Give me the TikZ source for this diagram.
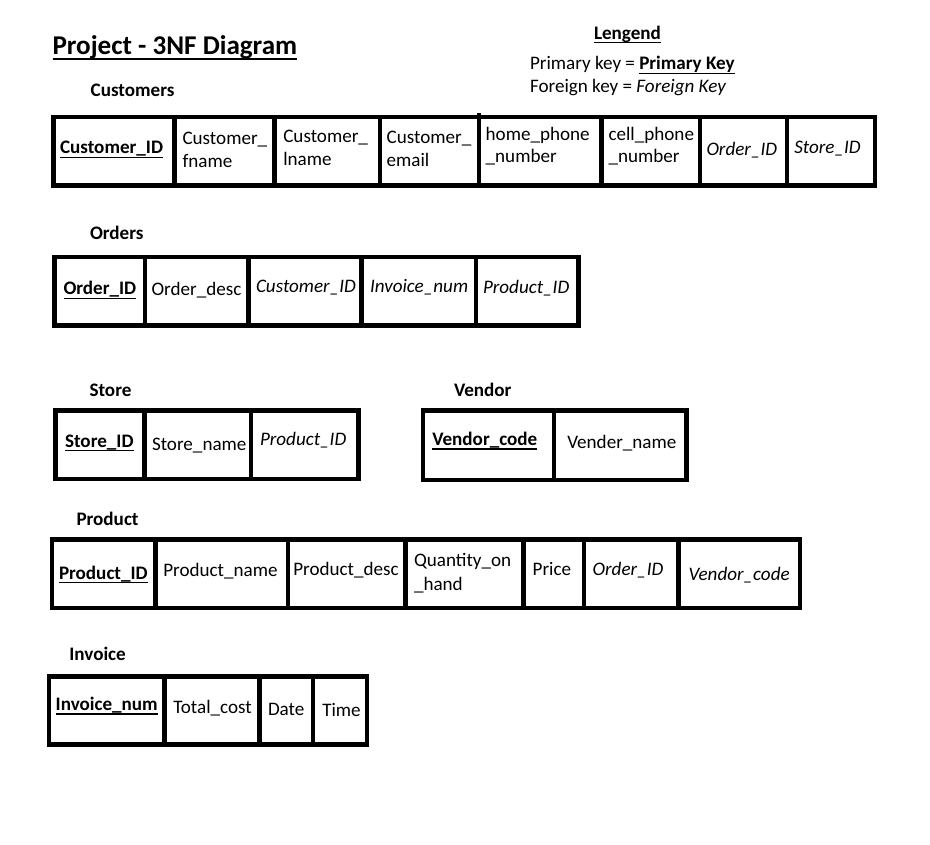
\documentclass[tikz,border=0pt]{standalone}
\usepackage{fontspec}
\setmainfont{Carlito}
\newcommand{\pkey}[1]{{\bfseries\setbox0=\hbox{#1}\rlap{\rule[-4pt]{\wd0}{1.4pt}}\box0}}
\newcommand{\titleul}[1]{{\bfseries\setbox0=\hbox{#1}\rlap{\rule[-5.6pt]{\wd0}{2pt}}\box0}}
\newcommand{\legul}[1]{{\bfseries\setbox0=\hbox{#1}\rlap{\rule[-4pt]{\wd0}{1.5pt}}\box0}}
\begin{document}
\begin{tikzpicture}[x=1pt,y=-1pt,
  txt/.style={inner sep=0pt,outer sep=0pt,anchor=base west,font=\fontsize{19.1pt}{22pt}\selectfont},
  lbl/.style={txt,font=\fontsize{19.1pt}{22pt}\selectfont\bfseries},
  fk/.style={txt,font=\fontsize{19.1pt}{22pt}\selectfont\itshape},
  tbl/.style={line width=4.5pt,line join=miter}]
\fill[white] (0,0) rectangle (930,845);
\useasboundingbox (0,0) rectangle (930,845);

% Title and legend
\node[txt,font=\fontsize{27.1pt}{32pt}\selectfont] (title) at (52.5,54.3) {\titleul{Project - 3NF Diagram}};
\node[txt] (legend) at (594,39.3) {\legul{Lengend}};
\node[txt] (legpk) at (530,70) {Primary key = \pkey{Primary Key}};
\node[txt] (legfk) at (530,92.7) {Foreign key = \textit{Foreign Key}};

% Customers
\node[lbl] (custlbl) at (90.7,96.7) {Customers};
\draw[tbl] (53.5,117) rectangle (875,185.5);
\foreach \x in {174.5,274.5,380,601.5,700,787} \draw[tbl] (\x,117) -- (\x,185.5);
\draw[tbl] (479,113) -- (479,185.5);
\node[txt] (c1) at (60,154) {\pkey{Customer\_ID}};
\node[txt] (c2a) at (182.5,145) {Customer\_};
\node[txt] (c2b) at (182.5,167.5) {fname};
\node[txt] (c3a) at (283.3,143) {Customer\_};
\node[txt] (c3b) at (283.3,165.7) {lname};
\node[txt] (c4a) at (386.7,144) {Customer\_};
\node[txt] (c4b) at (386.7,166.7) {email};
\node[txt] (c5a) at (485.7,141) {home\_phone};
\node[txt] (c5b) at (485.7,163) {\_number};
\node[txt] (c6a) at (608.5,141) {cell\_phone};
\node[txt] (c6b) at (608.5,163) {\_number};
\node[fk] (c7) at (706.5,156) {Order\_ID};
\node[fk] (c8) at (794.3,154) {Store\_ID};

% Orders
\node[lbl] (ordlbl) at (90,239.6) {Orders};
\draw[tbl] (54.7,257) rectangle (578.5,325.5);
\foreach \x in {145,248.4,361.5,475.8} \draw[tbl] (\x,257) -- (\x,325.5);
\node[txt] (o1) at (63.5,295) {\pkey{Order\_ID}};
\node[txt] (o2) at (151.5,296) {Order\_desc};
\node[fk] (o3) at (256,293) {Customer\_ID};
\node[fk] (o4) at (370,293) {Invoice\_num};
\node[fk] (o5) at (483,293.5) {Product\_ID};

% Store
\node[lbl] (storelbl) at (89.5,396) {Store};
\draw[tbl] (55.5,410.5) rectangle (358.3,479);
\foreach \x in {144.3,251.2} \draw[tbl] (\x,410.5) -- (\x,479);
\node[txt] (s1) at (65,447.3) {\pkey{Store\_ID}};
\node[txt] (s2) at (152,450) {Store\_name};
\node[fk] (s3) at (260,445) {Product\_ID};

% Vendor
\node[lbl] (vendlbl) at (454,396) {Vendor};
\draw[tbl] (422.8,410.5) rectangle (686.3,480);
\draw[tbl] (553.8,410.5) -- (553.8,480);
\node[txt] (v1) at (432.3,445.7) {\pkey{Vendor\_code}};
\node[txt] (v2) at (567.3,448.3) {Vender\_name};

% Product
\node[lbl] (prodlbl) at (76.5,525) {Product};
\draw[tbl] (52.2,539.5) rectangle (800,608.2);
\foreach \x in {155.5,287.8,405.5,523.3,584.2,678.3} \draw[tbl] (\x,539.5) -- (\x,608.2);
\node[txt] (p1) at (59,579.3) {\pkey{Product\_ID}};
\node[txt] (p2) at (163.3,576.7) {Product\_name};
\node[txt] (p3) at (293.3,575.7) {Product\_desc};
\node[txt] (p4a) at (414,566.7) {Quantity\_on};
\node[txt] (p4b) at (414,590) {\_hand};
\node[txt] (p5) at (532.7,575) {Price};
\node[fk] (p6) at (592.7,575.7) {Order\_ID};
\node[fk] (p7) at (688.7,580) {Vendor\_code};

% Invoice
\node[lbl] (invlbl) at (69.3,660.7) {Invoice};
\draw[tbl] (49,676.5) rectangle (367,744.5);
\foreach \x in {164.5,259.5,313} \draw[tbl] (\x,676.5) -- (\x,744.5);
\node[txt] (i1) at (55.7,710.7) {\pkey{Invoice\_num}};
\node[txt] (i2) at (173.3,713.3) {Total\_cost};
\node[txt] (i3) at (268,715) {Date};
\node[txt] (i4) at (322.3,716) {Time};
\end{tikzpicture}
\end{document}
